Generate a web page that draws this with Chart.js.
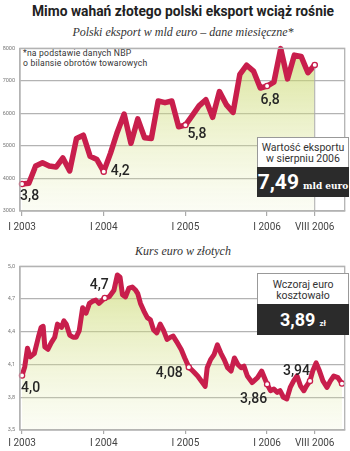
<!DOCTYPE html>
<html>
<head>
<meta charset="utf-8">
<script src="https://cdn.jsdelivr.net/npm/chart.js@4/dist/chart.umd.min.js"></script>
<style>
  body { margin: 0; background: #fff; width: 350px; height: 451px; overflow: hidden; position: relative; font-family: Roboto, sans-serif; }
  canvas { position: absolute; left: 0; }
  .t { position: absolute; white-space: nowrap; }
  #title { top: 3px; left: 0; width: 366px; text-align: center; font: 700 13.8px Roboto, sans-serif; color: #222; }
  .sub { left: 0; width: 366px; text-align: center; font: italic 12px "Liberation Serif", serif; color: #333; }
  #note { left: 23px; top: 49px; font-size: 8.6px; line-height: 9.8px; color: #333; letter-spacing: 0.2px; }
  .box { position: absolute; left: 257px; width: 92px; }
  .box .w { background: #fff; border: 1px solid #999; border-bottom: none; text-align: center; font-size: 10.5px; line-height: 11px; color: #333; box-sizing: border-box; }
  .box .d { background: #2b2b2b; color: #fff; text-align: center; font-weight: 700; }
</style>
</head>
<body>
<div id="title" class="t">Mimo wahań złotego polski eksport wciąż rośnie</div>
<div class="t sub" style="top:25px">Polski eksport w mld euro – dane miesięczne*</div>
<div id="note" class="t">*na podstawie danych NBP<br>o bilansie obrotów towarowych</div>
<div class="t sub" style="top:244px">Kurs euro w złotych</div>

<canvas id="exportChart" width="350" height="195" style="top:40px"></canvas>
<canvas id="kursChart" width="350" height="193" style="top:258px"></canvas>

<div class="box" style="top:137px">
  <div class="w" style="height:30px;padding-top:4px">Wartość eksportu<br>w sierpniu 2006</div>
  <div class="d" style="height:30px;line-height:30px"><span style="font-size:21px">7,49</span> <span style="font:700 9px 'DejaVu Serif',serif">mld euro</span></div>
</div>
<div class="box" style="top:273px">
  <div class="w" style="height:31px;padding-top:5px">Wczoraj euro<br>kosztowało</div>
  <div class="d" style="height:31px;line-height:31px"><span style="font-size:18px">3,89</span> <span style="font-size:8px">zł</span></div>
</div>

<script>
// miesiące liczone od stycznia 2003 (0 = I 2003)
const tickMonths = [0, 12, 24, 36, 43];
const tickLabels = ['I 2003', 'I 2004', 'I 2005', 'I 2006', 'VIII 2006'];

// eksport, mln euro, I 2003 - VIII 2006
const exportValues = [
  3830, 3850, 4380, 4480, 4380, 4350, 4630, 4230, 5230, 5330, 4680, 4580,
  4210, 4780, 5430, 5980, 5080, 5830, 5250, 5230, 6380, 6330, 6380, 5590,
  5640, 5930, 6230, 6420, 5880, 6670, 6270, 6030, 7200, 7480, 7300, 6780,
  6840, 6960, 7990, 7060, 7790, 7750, 7250, 7490
];
const exportTicks = [3000, 4000, 5000, 6000, 7000, 8000];
const exportMarked = [0, 12, 24, 36, 43];
const exportMarkText = ['3,8', '4,2', '5,8', '6,8', null];

// kurs EUR/PLN
const kursMonths = [
  0, 0.4, 0.8, 1.2, 1.8, 2.4, 2.8, 3.1, 3.35, 3.8, 4.3, 4.8, 5.2, 5.8, 6.15, 6.5,
  7.0, 7.5, 7.95, 8.4, 8.9, 9.4, 9.9, 10.4, 10.85, 11.3, 11.8, 12.15, 12.8, 13.5,
  14.0, 14.4, 14.75, 15.2, 15.7, 16.2, 16.7, 17.0, 17.4, 17.9, 18.4, 18.85, 19.3,
  19.8, 20.3, 20.8, 21.3, 21.8, 22.2, 22.7, 23.4, 23.9, 24.5, 25.1, 25.8, 26.5,
  26.9, 27.2, 27.7, 28.2, 28.7, 29.2, 29.7, 30.2, 30.7, 31.2, 31.7, 32.2, 32.6,
  33.1, 33.8, 34.6, 35.2, 35.7, 36.0, 36.5, 37.0, 37.5, 37.9, 38.4, 38.9, 39.4,
  39.9, 40.4, 40.9, 41.4, 41.8, 42.3, 42.7, 43.2, 43.7, 44.2, 44.8, 45.3, 45.8,
  46.4, 47.0
];
const kursValues = [
  4.00, 4.08, 4.25, 4.17, 4.20, 4.35, 4.44, 4.45, 4.26, 4.24, 4.30, 4.35, 4.47, 4.44, 4.50, 4.47,
  4.37, 4.35, 4.35, 4.41, 4.62, 4.57, 4.66, 4.68, 4.69, 4.66, 4.69, 4.71, 4.72, 4.78,
  4.92, 4.90, 4.74, 4.72, 4.80, 4.81, 4.78, 4.75, 4.66, 4.59, 4.53, 4.51, 4.42,
  4.39, 4.47, 4.41, 4.33, 4.35, 4.36, 4.31, 4.235, 4.16, 4.076, 4.04, 3.995, 3.935,
  3.90, 4.07, 4.145, 4.19, 4.28, 4.205, 4.145, 4.07, 4.04, 4.16, 4.10, 4.07, 4.085,
  3.995, 3.935, 3.98, 4.04, 3.965, 3.92, 3.86, 3.875, 3.845, 3.86, 3.80, 3.785, 3.89,
  3.95, 3.995, 3.905, 3.86, 3.905, 3.95, 4.04, 4.115, 4.04, 3.95, 3.89, 3.95, 3.995,
  3.98, 3.925
];
const kursTicks = [3.5, 3.8, 4.1, 4.4, 4.7, 5.0];
const kursMarked = [0, 27, 52, 74, 87, 96];
const kursMarkText = ['4,0', '4,7', '4,08', '3,86', '3,94', null];

const RED = '#c81e4c';
Chart.defaults.font.family = 'Roboto';

function fillGradient(ctx) {
  const area = ctx.chart.chartArea;
  if (!area) return 'rgba(220,230,160,0.4)';
  const g = ctx.chart.ctx.createLinearGradient(0, area.top, 0, area.bottom);
  g.addColorStop(0, 'rgba(196,212,96,0.65)');
  g.addColorStop(1, 'rgba(225,234,170,0.12)');
  return g;
}

// napisy przy punktach + ramka wykresu
const markPlugin = {
  id: 'marks',
  afterDatasetsDraw(chart, args, opts) {
    const ctx = chart.ctx;
    const a = chart.chartArea;
    const pts = chart.getDatasetMeta(0).data;
    ctx.save();
    ctx.strokeStyle = '#b3b3b3';
    ctx.lineWidth = 1.3;
    ctx.strokeRect(a.left, a.top, a.right - a.left, a.bottom - a.top);
    if (opts.dropLine) {
      const p = pts[pts.length - 1];
      ctx.beginPath();
      ctx.moveTo(p.x, p.y + 3);
      ctx.lineTo(p.x, a.bottom);
      ctx.strokeStyle = '#aaa';
      ctx.lineWidth = 1;
      ctx.stroke();
    }
    ctx.font = '500 14px Roboto';
    ctx.fillStyle = '#262626';
    ctx.textBaseline = 'middle';
    opts.idx.forEach((i, k) => {
      const txt = opts.text[k];
      if (!txt) return;
      const s = opts.style[k];
      ctx.textAlign = s.align;
      ctx.fillText(txt, pts[i].x + s.dx, pts[i].y + s.dy);
    });
    ctx.restore();
  }
};

function xScale(height, tickLen, pad) {
  return {
    type: 'linear', min: -0.3, max: 47.4,
    afterBuildTicks: ax => { ax.ticks = tickMonths.map(v => ({ value: v })); },
    afterFit: ax => { ax.height = height; },
    grid: { drawOnChartArea: false, tickLength: tickLen, color: '#aaa', lineWidth: 1.2 },
    border: { color: '#b3b3b3', width: 1.3 },
    ticks: {
      padding: pad, color: '#444', font: { size: 10 },
      callback: v => tickLabels[tickMonths.indexOf(v)]
    }
  };
}

function yScale(min, max, tickList, fmt) {
  return {
    min: min, max: max,
    afterBuildTicks: ax => { ax.ticks = tickList.map(v => ({ value: v })); },
    afterFit: ax => { ax.width = 20; },
    grid: { color: '#b3b3b3', lineWidth: 1.3, drawTicks: false },
    border: { color: '#b3b3b3', width: 1.3 },
    ticks: { padding: 5, color: '#777', font: { size: 5.5 }, callback: fmt }
  };
}

function markRadius(list) {
  return ctx => list.includes(ctx.dataIndex) ? 2.6 : 0;
}

new Chart(document.getElementById('exportChart'), {
  type: 'line',
  data: {
    datasets: [{
      data: exportValues.map((v, i) => ({ x: i, y: v })),
      borderColor: RED,
      borderWidth: 5.5,
      borderJoinStyle: 'round',
      borderCapStyle: 'round',
      tension: 0,
      fill: 'start',
      backgroundColor: fillGradient,
      pointRadius: markRadius(exportMarked),
      pointBackgroundColor: '#fff',
      pointBorderColor: RED,
      pointBorderWidth: 1.3,
      clip: 10
    }]
  },
  options: {
    responsive: false,
    devicePixelRatio: 1,
    animation: false,
    layout: { padding: { top: 4, right: 2, left: 0, bottom: 0 } },
    plugins: {
      legend: { display: false },
      tooltip: { enabled: false },
      marks: {
        idx: exportMarked, text: exportMarkText, dropLine: true,
        style: [
          { dx: -2, dy: 13, align: 'left' },
          { dx: 7, dy: 0, align: 'left' },
          { dx: 2, dy: 9, align: 'left' },
          { dx: 3, dy: 14, align: 'center' },
          null
        ]
      }
    },
    scales: {
      x: xScale(24, 5, 5),
      y: yScale(3000, 8000, exportTicks, v => String(v))
    }
  },
  plugins: [markPlugin]
});

new Chart(document.getElementById('kursChart'), {
  type: 'line',
  data: {
    datasets: [{
      data: kursMonths.map((m, i) => ({ x: m, y: kursValues[i] })),
      borderColor: RED,
      borderWidth: 5,
      borderJoinStyle: 'round',
      borderCapStyle: 'round',
      tension: 0,
      fill: 'start',
      backgroundColor: fillGradient,
      pointRadius: markRadius(kursMarked),
      pointBackgroundColor: '#fff',
      pointBorderColor: RED,
      pointBorderWidth: 1.3,
      clip: 10
    }]
  },
  options: {
    responsive: false,
    devicePixelRatio: 1,
    animation: false,
    layout: { padding: { top: 5, right: 4, left: 0, bottom: 0 } },
    plugins: {
      legend: { display: false },
      tooltip: { enabled: false },
      marks: {
        idx: kursMarked, text: kursMarkText, dropLine: false,
        style: [
          { dx: -1, dy: 13, align: 'left' },
          { dx: 4, dy: -12, align: 'right' },
          { dx: -6, dy: 6, align: 'right' },
          { dx: 0, dy: 15, align: 'right' },
          { dx: 0, dy: -9, align: 'right' },
          null
        ]
      }
    },
    scales: {
      x: xScale(21, 4, 3),
      y: yScale(3.5, 5.0, kursTicks, v => v.toFixed(1).replace('.', ','))
    }
  },
  plugins: [markPlugin]
});
</script>
</body>
</html>
